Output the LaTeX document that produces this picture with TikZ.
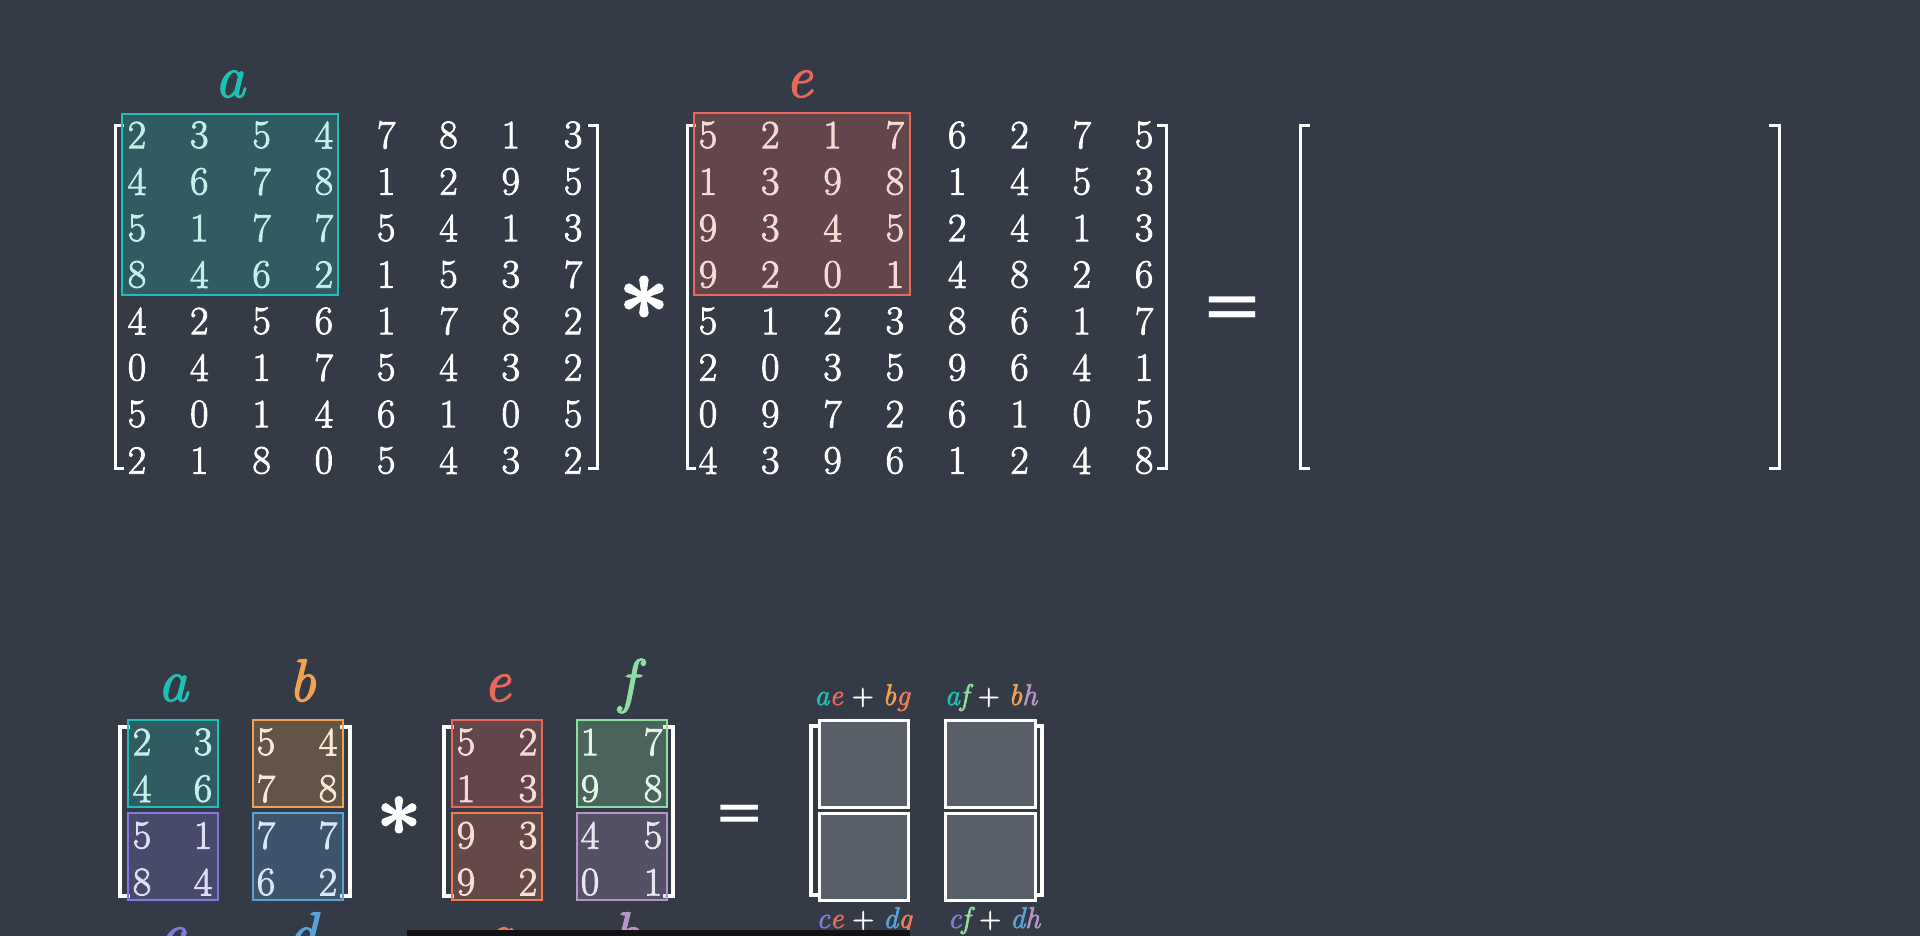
\documentclass[tikz,border=0pt]{standalone}
\usepackage{fontspec}
\setmainfont{Latin Modern Roman}
\newfontfamily\heavyfont{Latin Modern Roman}[FakeBold=2.2]
\newfontfamily\opfont{DejaVu Sans}
\definecolor{bg}{RGB}{52,59,70}
\definecolor{cteal}{RGB}{30,192,182}
\definecolor{cred}{RGB}{232,104,92}
\definecolor{corange}{RGB}{240,162,80}
\definecolor{cpurple}{RGB}{132,122,222}
\definecolor{cblue}{RGB}{92,162,216}
\definecolor{cgreen}{RGB}{142,222,164}
\definecolor{clav}{RGB}{182,150,202}
\definecolor{cgorange}{RGB}{242,122,80}
\definecolor{rgray}{RGB}{90,96,105}
\definecolor{barblack}{RGB}{18,18,20}
\tikzset{
  num/.style={text=white, font=\heavyfont\fontsize{40}{40}\selectfont, inner sep=0pt},
  lbl/.style={font=\heavyfont\fontsize{60}{60}\selectfont\itshape, anchor=base, inner sep=0pt},
  frm/.style={font=\heavyfont\fontsize{30}{30}\selectfont, anchor=base, inner sep=0pt, text=white},
  opsym/.style={font=\opfont\fontsize{74}{74}\selectfont, anchor=base, inner sep=0pt, text=white},
  astsym/.style={font=\heavyfont\bfseries\fontsize{90}{90}\selectfont, anchor=base, inner sep=0pt, text=white},
  blk/.style={draw=#1, line width=2.5pt, fill=#1, fill opacity=0.25},
  brk/.style={draw=white, line width=3pt},
  sbrk/.style={draw=white, line width=4.5pt},
  rbox/.style={draw=white, line width=3pt, fill=rgray, inner sep=0pt, minimum width=89pt, minimum height=87pt},
}
\newcommand{\ci}[2]{{\color{#1}\itshape #2}}
\begin{document}
\begin{tikzpicture}[x=1pt,y=-1pt]
\clip (0,0) rectangle (1920,936);
\fill[bg] (0,0) rectangle (1920,936);

% ---------- top row ----------
\draw[brk] (124,126) -- (115,126) -- (115,468) -- (124,468);
\draw[brk] (588,126) -- (597,126) -- (597,468) -- (588,468);
\draw[brk] (696,126) -- (687,126) -- (687,468) -- (696,468);
\draw[brk] (1157,126) -- (1166,126) -- (1166,468) -- (1157,468);
\draw[brk] (1310,126) -- (1300,126) -- (1300,468) -- (1310,468);
\draw[brk] (1769,126) -- (1779,126) -- (1779,468) -- (1769,468);

\foreach \row [count=\r from 0] in {{2,3,5,4,7,8,1,3},{4,6,7,8,1,2,9,5},{5,1,7,7,5,4,1,3},{8,4,6,2,1,5,3,7},{4,2,5,6,1,7,8,2},{0,4,1,7,5,4,3,2},{5,0,1,4,6,1,0,5},{2,1,8,0,5,4,3,2}}{
  \foreach \v [count=\c from 0] in \row {
    \node[num] (A-\r-\c) at ({137+62.3*\c},{135+46.5*\r}) {\v};
  }
}
\foreach \row [count=\r from 0] in {{5,2,1,7,6,2,7,5},{1,3,9,8,1,4,5,3},{9,3,4,5,2,4,1,3},{9,2,0,1,4,8,2,6},{5,1,2,3,8,6,1,7},{2,0,3,5,9,6,4,1},{0,9,7,2,6,1,0,5},{4,3,9,6,1,2,4,8}}{
  \foreach \v [count=\c from 0] in \row {
    \node[num] (B-\r-\c) at ({708+62.3*\c},{135+46.5*\r}) {\v};
  }
}
\draw[blk=cteal] (122,114) rectangle (338,295);
\draw[blk=cred] (694,113) rectangle (910,295);
\node[lbl, text=cteal] (la) at (230,97) {a};
\node[lbl, text=cred] (le) at (799,97) {e};

\node[astsym] (ast1) at (644,344) {*};
\node[opsym] (eq1) at (1232,330) {=};

% ---------- bottom row ----------
\draw[sbrk] (130,727) -- (120,727) -- (120,896) -- (130,896);
\draw[sbrk] (340,727) -- (350,727) -- (350,896) -- (340,896);
\draw[sbrk] (454,727) -- (444,727) -- (444,896) -- (454,896);
\draw[sbrk] (663,727) -- (673,727) -- (673,896) -- (663,896);
\draw[sbrk] (820,726) -- (811,726) -- (811,895) -- (820,895);
\draw[sbrk] (1033,726) -- (1042,726) -- (1042,895) -- (1033,895);

\foreach \row [count=\r from 0] in {{2,3,5,4},{4,6,7,8},{5,1,7,7},{8,4,6,2}}{
  \foreach \v [count=\c from 0] in \row {
    \pgfmathsetmacro{\xx}{(\c<2 ? 142+61*\c : 266+62*(\c-2))}
    \node[num] (P-\r-\c) at (\xx,{742+46.7*\r}) {\v};
  }
}
\foreach \row [count=\r from 0] in {{5,2,1,7},{1,3,9,8},{9,3,4,5},{9,2,0,1}}{
  \foreach \v [count=\c from 0] in \row {
    \pgfmathsetmacro{\xx}{(\c<2 ? 466+62*\c : 590+63*(\c-2))}
    \node[num] (Q-\r-\c) at (\xx,{742+46.7*\r}) {\v};
  }
}
\draw[blk=cteal] (128,720) rectangle (218,807);
\draw[blk=cpurple] (128,813) rectangle (218,900);
\draw[blk=corange] (253,720) rectangle (343,807);
\draw[blk=cblue] (253,813) rectangle (343,900);
\draw[blk=cred] (452,720) rectangle (542,807);
\draw[blk=cgorange] (452,813) rectangle (542,900);
\draw[blk=cgreen] (577,720) rectangle (667,807);
\draw[blk=clav] (577,813) rectangle (667,900);

\node[lbl, text=cteal] (ba) at (173,701) {a};
\node[lbl, text=corange] (bb) at (302,701) {b};
\node[lbl, text=cred] (be) at (497,701) {e};
\node[lbl, text=cgreen] (bf) at (628,701) {f};
\node[lbl, text=cpurple] (bc) at (172,954) {c};
\node[lbl, text=cblue] (bd) at (302,954) {d};
\node[lbl, text=cgorange] (bg) at (498,954) {g};
\node[lbl, text=clav] (bh) at (627,954) {h};

\node[astsym, font=\heavyfont\bfseries\fontsize{80}{80}\selectfont] (ast2) at (399,857) {*};
\node[opsym, font=\opfont\fontsize{60}{60}\selectfont] (eq2) at (740,832) {=};

% result blocks
\node[rbox] (r11) at (863.5,763.5) {};
\node[rbox] (r21) at (863.5,856.5) {};
\node[rbox, minimum width=90pt] (r12) at (990,763.5) {};
\node[rbox, minimum width=90pt] (r22) at (990,856.5) {};

\node[frm] (f11) at (862,705) {\ci{cteal}{a}\ci{cred}{e} + \ci{corange}{b}\ci{cgorange}{g}};
\node[frm] (f12) at (991,705) {\ci{cteal}{a}\ci{cgreen}{f} + \ci{corange}{b}\ci{clav}{h}};
\node[frm] (f21) at (864,928) {\ci{cpurple}{c}\ci{cred}{e} + \ci{cblue}{d}\ci{cgorange}{g}};
\node[frm] (f22) at (994,928) {\ci{cpurple}{c}\ci{cgreen}{f} + \ci{cblue}{d}\ci{clav}{h}};

% dark bar at the bottom edge
\fill[barblack] (407,930) rectangle (910,936);
\end{tikzpicture}
\end{document}
